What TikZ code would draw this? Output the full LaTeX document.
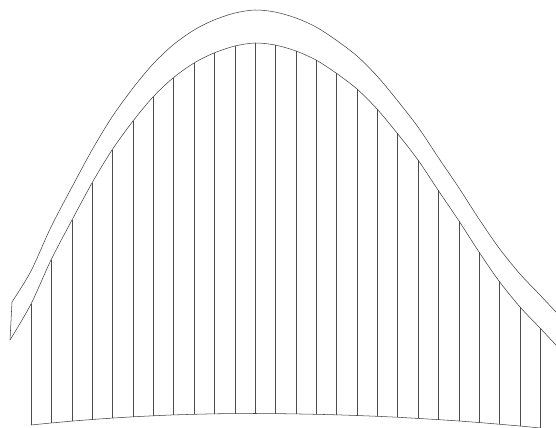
\documentclass[tikz,border=0pt]{standalone}
\usepackage{tikz}

\begin{document}
\begin{tikzpicture}[x=0.04cm, y=-0.04cm,
    rim/.style={draw=black!75, line width=0.6pt, line join=round},
    rod/.style={draw=black!70, line width=0.6pt}]
    \useasboundingbox (0,0) rectangle (556,427);
    \clip (0,0) rectangle (556,427);

    % rods from the band down to the floor
    \foreach \x/\t/\b [count=\i from 0] in {31/304/425.0, 51/260/423.0, 72/220/421.1, 92/183/419.5,
        112/150/418.1, 133/121/416.8, 153/97/415.8, 173/78/414.9, 194/63/414.3, 214/53/413.8,
        235/46/413.6, 255/43/413.5, 275/45/413.6, 296/51/413.9, 316/60/414.3, 336/73/414.8,
        357/89/415.5, 377/109/416.3, 397/133/417.2, 418/160/418.4, 438/190/419.6, 459/221/421.0,
        479/252/422.5, 499/281/424.2, 520/307/426.0, 540/328/428.0} {
        \coordinate (t\i) at (\x,\t);
        \coordinate (b\i) at (\x,\b);
        \draw [rod] (t\i) -- (b\i);
    }

    % floor
    \draw [rim] (b0) \foreach \i in {1,...,25} { -- (b\i) };

    % band ends
    \coordinate (tipU) at (12,302);
    \coordinate (tipL) at (10,340);
    \coordinate (endU) at (580,336);
    \coordinate (endL) at (580,370);

    % band
    \draw [rim] plot [smooth] coordinates {(endU) (556,312) (540,295) (520,274) (499,248)
        (479,219) (459,188) (438,157) (418,127) (397,100) (377,76) (357,56) (336,40) (316,27)
        (296,18) (275,12) (255,10) (235,13) (214,20) (194,30) (173,45) (153,64) (133,88)
        (112,117) (92,150) (72,187) (51,227) (31,271) (tipU)} -- (tipL);
    \draw [rim] plot [smooth] coordinates {(tipL) (t0) (t1) (t2) (t3) (t4) (t5) (t6) (t7) (t8)
        (t9) (t10) (t11) (t12) (t13) (t14) (t15) (t16) (t17) (t18) (t19) (t20) (t21) (t22)
        (t23) (t24) (t25) (556,345) (endL)};
\end{tikzpicture}
\end{document}
